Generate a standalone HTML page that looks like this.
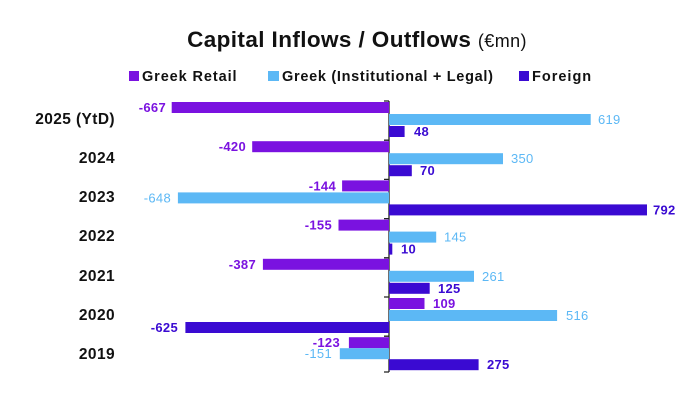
<!DOCTYPE html>
<html><head><meta charset="utf-8"><style>
html,body{margin:0;padding:0;background:#fff;}
svg{display:block;font-family:"Liberation Sans",sans-serif;}
.c{font-weight:bold;font-size:15.5px;fill:#111;text-anchor:end;letter-spacing:0.4px;}
.r{fill:#7A12E0;font-weight:bold;font-size:13px;letter-spacing:0.3px;}
.i{fill:#5CB8F5;font-size:13px;letter-spacing:0.3px;}
.f{fill:#3A0AD2;font-weight:bold;font-size:13px;letter-spacing:0.3px;}
</style></head><body>
<svg width="700" height="404" viewBox="0 0 700 404">
<text x="357" y="47" text-anchor="middle" font-size="22.5" font-weight="bold" fill="#111" letter-spacing="0.4">Capital Inflows / Outflows <tspan font-weight="normal" font-size="18">(€mn)</tspan></text>
<rect x="129" y="71" width="10" height="10" fill="#7A12E0"/><text x="142" y="81" font-size="14.5" font-weight="bold" fill="#111" letter-spacing="0.9">Greek Retail</text>
<rect x="268" y="71" width="11" height="10" fill="#5CB8F5"/><text x="282" y="81" font-size="14.5" font-weight="bold" fill="#111" letter-spacing="0.7">Greek (Institutional + Legal)</text>
<rect x="519" y="71" width="10" height="10" fill="#3A0AD2"/><text x="532" y="81" font-size="14.5" font-weight="bold" fill="#111" letter-spacing="1">Foreign</text>

<g fill="none" stroke="#222" stroke-width="1.3">
<path d="M389 101V372"/>
<path d="M384 101H389M384 140.2H389M384 179.4H389M384 218.6H389M384 257.8H389M384 297H389M384 336.2H389M384 372H389"/>
</g>

<text class="c" x="115" y="124">2025 (YtD)</text>
<text class="c" x="115" y="163">2024</text>
<text class="c" x="115" y="202">2023</text>
<text class="c" x="115" y="241">2022</text>
<text class="c" x="115" y="281">2021</text>
<text class="c" x="115" y="320">2020</text>
<text class="c" x="115" y="359">2019</text>

<rect x="171.7" y="102" width="217.3" height="11" fill="#7A12E0"/><text class="r" x="166" y="112" text-anchor="end">-667</text>
<rect x="389" y="114" width="201.7" height="11" fill="#5CB8F5"/><text class="i" x="598" y="124">619</text>
<rect x="389" y="126" width="15.6" height="11" fill="#3A0AD2"/><text class="f" x="414" y="136">48</text>
<rect x="252.2" y="141.2" width="136.8" height="11" fill="#7A12E0"/><text class="r" x="246" y="151.2" text-anchor="end">-420</text>
<rect x="389" y="153.2" width="114" height="11" fill="#5CB8F5"/><text class="i" x="511" y="163.2">350</text>
<rect x="389" y="165.2" width="22.8" height="11" fill="#3A0AD2"/><text class="f" x="420" y="175.2">70</text>
<rect x="342.1" y="180.4" width="46.9" height="11" fill="#7A12E0"/><text class="r" x="336" y="190.4" text-anchor="end">-144</text>
<rect x="177.9" y="192.4" width="211.1" height="11" fill="#5CB8F5"/><text class="i" x="171" y="202.4" text-anchor="end">-648</text>
<rect x="389" y="204.4" width="258" height="11" fill="#3A0AD2"/><text class="f" x="653" y="214.4">792</text>
<rect x="338.5" y="219.6" width="50.5" height="11" fill="#7A12E0"/><text class="r" x="332" y="229.6" text-anchor="end">-155</text>
<rect x="389" y="231.6" width="47.2" height="11" fill="#5CB8F5"/><text class="i" x="444" y="241.6">145</text>
<rect x="389" y="243.6" width="3.3" height="11" fill="#3A0AD2"/><text class="f" x="401" y="253.6">10</text>
<rect x="262.9" y="258.8" width="126.1" height="11" fill="#7A12E0"/><text class="r" x="256" y="268.8" text-anchor="end">-387</text>
<rect x="389" y="270.8" width="85" height="11" fill="#5CB8F5"/><text class="i" x="482" y="280.8">261</text>
<rect x="389" y="282.8" width="40.7" height="11" fill="#3A0AD2"/><text class="f" x="438" y="292.8">125</text>
<rect x="389" y="298" width="35.5" height="11" fill="#7A12E0"/><text class="r" x="433" y="308">109</text>
<rect x="389" y="310" width="168.1" height="11" fill="#5CB8F5"/><text class="i" x="566" y="320">516</text>
<rect x="185.4" y="322" width="203.6" height="11" fill="#3A0AD2"/><text class="f" x="178" y="332" text-anchor="end">-625</text>
<rect x="348.9" y="337.2" width="40.1" height="11" fill="#7A12E0"/><text class="r" x="340" y="347.2" text-anchor="end">-123</text>
<rect x="339.8" y="348.2" width="49.2" height="11" fill="#5CB8F5"/><text class="i" x="332" y="358.2" text-anchor="end">-151</text>
<rect x="389" y="359.2" width="89.6" height="11" fill="#3A0AD2"/><text class="f" x="487" y="369.2">275</text>
</svg>
</body></html>
